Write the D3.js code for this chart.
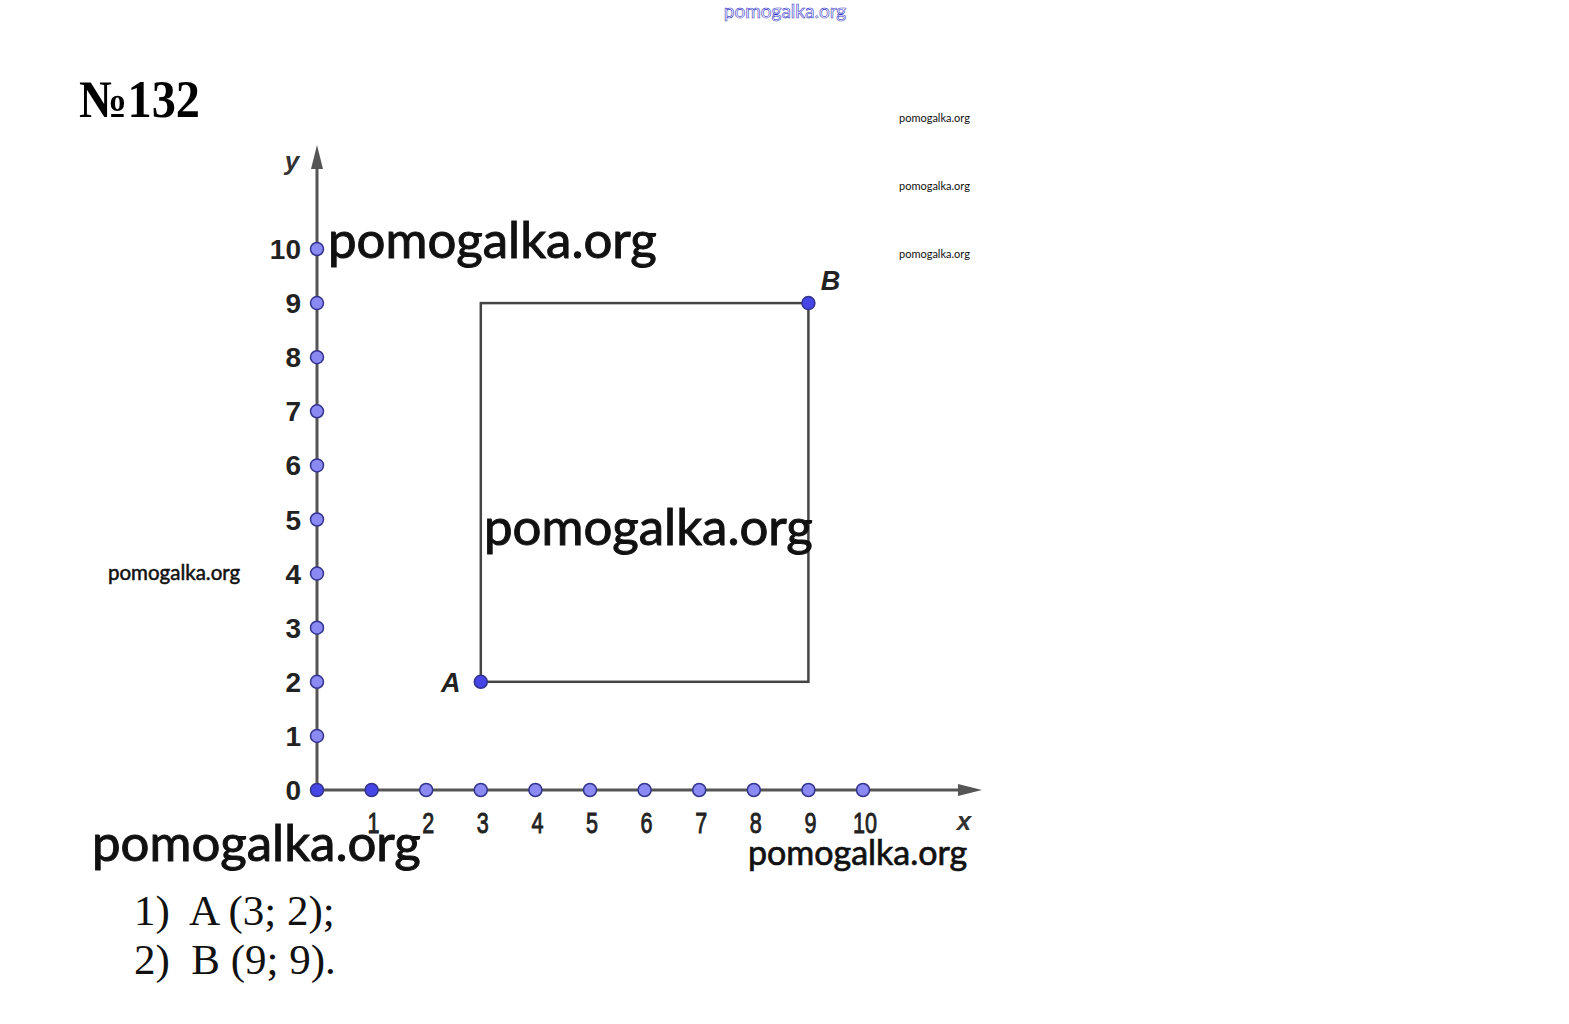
<!DOCTYPE html>
<html>
<head>
<meta charset="utf-8">
<script src="https://cdn.jsdelivr.net/npm/d3@7"></script>
<style>
  body { margin: 0; background: #fff; }
</style>
</head>
<body>
<div id="chart"></div>
<script>
// tick values on both axes
var xTicks = [0, 1, 2, 3, 4, 5, 6, 7, 8, 9, 10];
var yTicks = [1, 2, 3, 4, 5, 6, 7, 8, 9, 10];
// labelled points
var pointNames = ["A", "B"];
var pointX = [3, 9];
var pointY = [2, 9];
// answer lines
var answers = ["1)  A (3; 2);", "2)  B (9; 9)."];

var W = 1569, H = 1024;

var svg = d3.select("#chart")
  .append("svg")
    .attr("width", W)
    .attr("height", H);

var x = d3.scaleLinear().domain([0, 10]).range([317, 863]);
var y = d3.scaleLinear().domain([0, 10]).range([790, 249]);

// header
svg.append("text")
  .attr("x", 785).attr("y", 18)
  .attr("text-anchor", "middle")
  .style("font-family", "Lato")
  .style("font-size", "19px")
  .attr("fill", "#fff")
  .attr("stroke", "#3434c8")
  .attr("stroke-width", 0.6)
  .text("pomogalka.org");

svg.append("text")
  .attr("transform", "translate(79,117) scale(1,1.1)")
  .style("font-family", "Liberation Serif")
  .style("font-weight", "bold")
  .style("font-size", "48px")
  .attr("textLength", 121)
  .attr("lengthAdjust", "spacingAndGlyphs")
  .text("№132");

// axes
var axisCol = "#555";
svg.append("line")
  .attr("x1", x(0)).attr("y1", y(0))
  .attr("x2", 968).attr("y2", y(0))
  .attr("stroke", axisCol).attr("stroke-width", 3);
svg.append("line")
  .attr("x1", x(0)).attr("y1", y(0))
  .attr("x2", x(0)).attr("y2", 160)
  .attr("stroke", axisCol).attr("stroke-width", 3);
svg.append("path")
  .attr("d", "M982," + y(0) + "L958," + (y(0) - 6) + "L958," + (y(0) + 6) + "Z")
  .attr("fill", axisCol);
svg.append("path")
  .attr("d", "M" + x(0) + ",145L" + (x(0) - 6) + ",169L" + (x(0) + 6) + ",169Z")
  .attr("fill", axisCol);

svg.append("text")
  .attr("x", 292).attr("y", 170)
  .attr("text-anchor", "middle")
  .style("font-family", "Liberation Sans")
  .style("font-style", "italic").style("font-weight", "bold")
  .style("font-size", "26px").attr("fill", "#333")
  .text("y");
svg.append("text")
  .attr("x", 964).attr("y", 830)
  .attr("text-anchor", "middle")
  .style("font-family", "Liberation Sans")
  .style("font-style", "italic").style("font-weight", "bold")
  .style("font-size", "26px").attr("fill", "#333")
  .text("x");

// rectangle through A and B
svg.append("rect")
  .attr("x", x(pointX[0])).attr("y", y(pointY[1]))
  .attr("width", x(pointX[1]) - x(pointX[0]))
  .attr("height", y(pointY[0]) - y(pointY[1]))
  .attr("fill", "none")
  .attr("stroke", "#444").attr("stroke-width", 2.5);

// tick labels
svg.selectAll(".ylab")
  .data([0].concat(yTicks))
  .enter().append("text")
    .attr("class", "ylab")
    .attr("x", x(0) - 16)
    .attr("y", function(d) { return y(d) + 10; })
    .attr("text-anchor", "end")
    .style("font-family", "Liberation Sans")
    .style("font-weight", "bold")
    .style("font-size", "28px")
    .attr("fill", "#222")
    .text(function(d) { return d; });

svg.selectAll(".xlab")
  .data(xTicks.slice(1))
  .enter().append("text")
    .attr("class", "xlab")
    .attr("transform", function(d) { return "translate(" + (x(d) + 2) + ",833) scale(0.72,1)"; })
    .attr("text-anchor", "middle")
    .style("font-family", "Liberation Sans")
    .style("font-size", "30px")
    .attr("fill", "#222")
    .attr("stroke", "#222").attr("stroke-width", 0.9)
    .text(function(d) { return d; });

// axis points
var ptFill = "#8a8af2", ptDark = "#4646e6", ptStroke = "#33338f";
svg.selectAll(".xp")
  .data(xTicks)
  .enter().append("circle")
    .attr("cx", function(d) { return x(d); })
    .attr("cy", y(0))
    .attr("r", 6.5)
    .attr("fill", function(d) { return d < 2 ? ptDark : ptFill; })
    .attr("stroke", ptStroke).attr("stroke-width", 1.5);
svg.selectAll(".yp")
  .data(yTicks)
  .enter().append("circle")
    .attr("cx", x(0))
    .attr("cy", function(d) { return y(d); })
    .attr("r", 6.5)
    .attr("fill", ptFill)
    .attr("stroke", ptStroke).attr("stroke-width", 1.5);

// A and B
svg.selectAll(".pt")
  .data(pointNames)
  .enter().append("circle")
    .attr("cx", function(d, i) { return x(pointX[i]); })
    .attr("cy", function(d, i) { return y(pointY[i]); })
    .attr("r", 6.5)
    .attr("fill", ptDark)
    .attr("stroke", ptStroke).attr("stroke-width", 1.5);
svg.selectAll(".ptlab")
  .data(pointNames)
  .enter().append("text")
    .attr("x", function(d, i) { return i == 0 ? x(pointX[i]) - 30 : x(pointX[i]) + 22; })
    .attr("y", function(d, i) { return i == 0 ? y(pointY[i]) + 10 : y(pointY[i]) - 13; })
    .attr("text-anchor", "middle")
    .style("font-family", "Liberation Sans")
    .style("font-style", "italic").style("font-weight", "bold")
    .style("font-size", "27px").attr("fill", "#222")
    .text(function(d) { return d; });

// answers
svg.selectAll(".ans")
  .data(answers)
  .enter().append("text")
    .attr("x", 134)
    .attr("y", function(d, i) { return 925 + i * 49; })
    .attr("xml:space", "preserve")
    .style("white-space", "pre")
    .style("font-family", "Liberation Serif")
    .style("font-size", "43px")
    .attr("fill", "#111")
    .text(function(d) { return d; });

// watermarks
var marks = [
  {x: 328, y: 258, s: 51, sw: 1},
  {x: 484, y: 545, s: 51, sw: 1},
  {x: 92, y: 861, s: 51, sw: 1},
  {x: 748, y: 865, s: 34, sw: 0.7},
  {x: 108, y: 580, s: 20.5, sw: 0.5},
  {x: 899, y: 122, s: 11, sw: 0},
  {x: 899, y: 190, s: 11, sw: 0},
  {x: 899, y: 258, s: 11, sw: 0}
];
svg.selectAll(".wm")
  .data(marks)
  .enter().append("text")
    .attr("x", function(d) { return d.x; })
    .attr("y", function(d) { return d.y; })
    .style("font-family", "Lato")
    .style("font-size", function(d) { return d.s + "px"; })
    .attr("fill", "#111")
    .attr("stroke", "#111")
    .attr("stroke-width", function(d) { return d.sw; })
    .text("pomogalka.org");
</script>
</body>
</html>
